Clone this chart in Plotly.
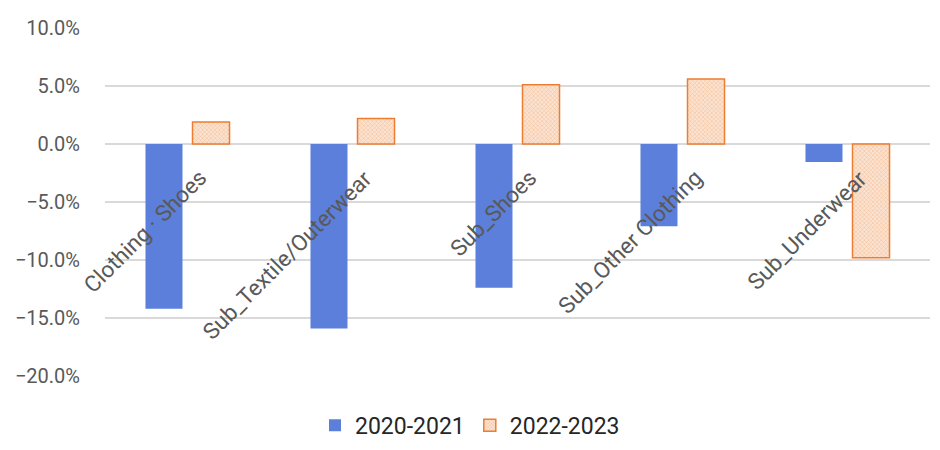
import plotly.graph_objects as go

categories = ["Clothing · Shoes", "Sub_Textile/Outerwear", "Sub_Shoes", "Sub_Other Clothing", "Sub_Underwear"]
series_names = ["2020-2021", "2022-2023"]
v_2020_2021 = [-0.142, -0.159, -0.124, -0.071, -0.0155]
v_2022_2023 = [0.019, 0.022, 0.051, 0.056, -0.098]
y_ticks = [0.10, 0.05, 0.0, -0.05, -0.10, -0.15, -0.20]

FONT = "Roboto"
GRAY = "#595959"

fig = go.Figure()
fig.add_trace(go.Bar(
    x=categories, y=v_2020_2021, name=series_names[0],
    marker=dict(color="#5B7FDA", line=dict(width=0)),
))
fig.add_trace(go.Bar(
    x=categories, y=v_2022_2023, name=series_names[1],
    marker=dict(
        color="#F8CBAD",
        line=dict(color="#ED7D31", width=1.5),
        pattern=dict(shape="x", size=3, solidity=0.35, fgcolor="#EE9A5E", bgcolor="#FBE3D2"),
    ),
))

for c in categories:
    fig.add_annotation(
        x=c, y=0, xref="x", yref="y", text=c, showarrow=False,
        textangle=-45, xanchor="right", yanchor="top",
        xshift=27, yshift=-18,
        font=dict(family=FONT, size=22.5, color=GRAY),
    )

fig.update_layout(
    width=940, height=450,
    margin=dict(l=105, r=10, t=28, b=74, autoexpand=False),
    paper_bgcolor="white", plot_bgcolor="white",
    barmode="group", bargap=0.43, bargroupgap=0.213,
    showlegend=True,
    legend=dict(
        orientation="h", xref="container", x=0.5, xanchor="center",
        yref="container", y=0.055, yanchor="middle",
        font=dict(family=FONT, size=23, color="#262626"),
        itemwidth=30, traceorder="normal",
    ),
    xaxis=dict(range=[-0.5, 4.5], autorange=False, showticklabels=False,
               showgrid=False, zeroline=False, showline=False),
    yaxis=dict(
        range=[-0.20, 0.10], autorange=False, automargin=False,
        tickvals=y_ticks, tickformat=".1%",
        showgrid=True, gridcolor="#D9D9D9", gridwidth=1.5,
        zeroline=True, zerolinecolor="#D9D9D9", zerolinewidth=1.5,
        showline=False, ticks="", ticklabelstandoff=24,
        tickfont=dict(family=FONT, size=20, color=GRAY),
    ),
)

fig.write_html("out.html", config={"displayModeBar": False},
               post_script="document.body.style.margin='0px';")
